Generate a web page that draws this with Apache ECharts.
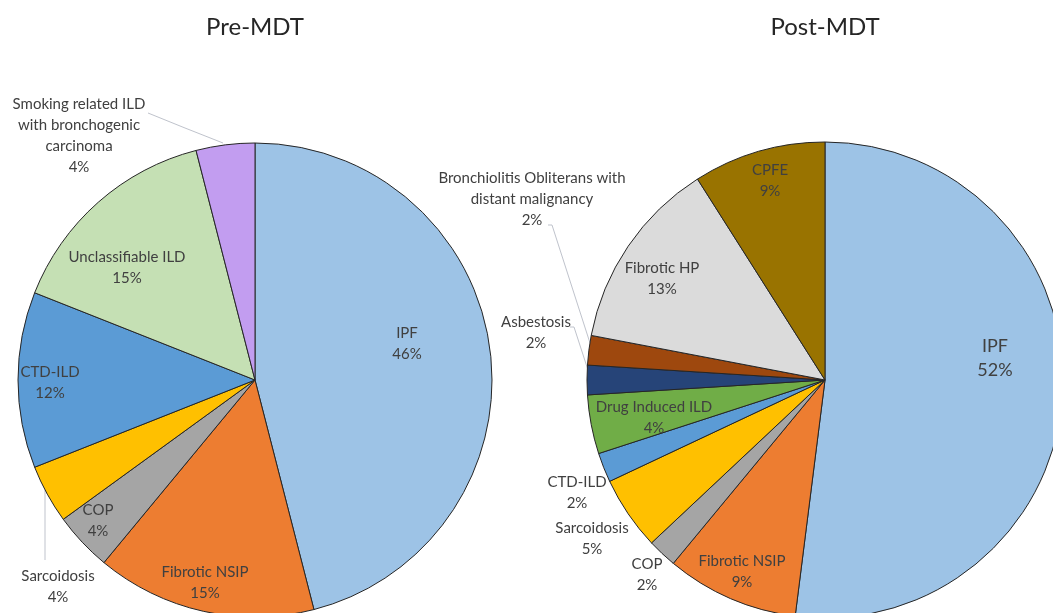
<!DOCTYPE html>
<html>
<head>
<meta charset="utf-8">
<script src="https://cdn.jsdelivr.net/npm/echarts@6/dist/echarts.min.js"></script>
<style>
html,body{margin:0;padding:0;background:#fff;}
#chart{width:1053px;height:613px;}
</style>
</head>
<body>
<div id="chart"></div>
<script>
// ---- data ----
var preTitle = 'Pre-MDT';
var postTitle = 'Post-MDT';
var preNames = ['IPF', 'Fibrotic NSIP', 'COP', 'Sarcoidosis', 'CTD-ILD', 'Unclassifiable ILD', 'Smoking related ILD\nwith bronchogenic\ncarcinoma'];
var preValues = [46, 15, 4, 4, 12, 15, 4];
var postNames = ['IPF', 'Fibrotic NSIP', 'COP', 'Sarcoidosis', 'CTD-ILD', 'Drug Induced ILD', 'Asbestosis', 'Bronchiolitis Obliterans with\ndistant malignancy', 'Fibrotic HP', 'CPFE'];
var postValues = [52, 9, 2, 5, 2, 4, 2, 2, 13, 9];

// ---- styles / layout ----
var preColors = ['#9DC3E6', '#ED7D31', '#A5A5A5', '#FFC000', '#5B9BD5', '#C5E0B4', '#C29DF0'];
var postColors = ['#9DC3E6', '#ED7D31', '#A5A5A5', '#FFC000', '#5B9BD5', '#70AD47', '#264478', '#9E480E', '#DBDBDB', '#997300'];
var preLabelPos = [[407, 344], [205, 583], [98, 521], [58, 587], [50, 383], [127, 268], [79, 136]];
var preLines = {3: [[45, 490], [45, 530], [45, 560]], 6: [[223, 143], [185, 128], [148, 113]]};
var postLabelPos = [[995, 358], [742, 572], [647, 575], [592, 539], [577, 493], [654, 418], [536, 333], [532, 199], [662, 279], [770, 181]];
var postLines = {6: [[588, 370], [574, 327], [570, 327]], 7: [[590, 343], [552, 225], [548, 225]]};
var preOutside = [3, 6];
var postOutside = [2, 3, 4, 6, 7];
var preLabelSize = {};
var postLabelSize = {0: 18};

var FONT = 'Lato';
var TXT = '#404040';

function buildData(names, values, colors, outside, lines, sizes) {
  return names.map(function (n, i) {
    var out = outside.indexOf(i) >= 0;
    var lbl = {position: out ? 'outside' : 'inside'};
    if (sizes[i]) { lbl.fontSize = sizes[i]; lbl.lineHeight = sizes[i] + 6; }
    return {
      name: n,
      value: values[i],
      itemStyle: {color: colors[i]},
      label: lbl,
      labelLine: {show: !!lines[i]}
    };
  });
}

function makeSeries(names, values, colors, outside, lines, pos, sizes, center, radius) {
  return {
    type: 'pie',
    center: center,
    radius: radius,
    startAngle: 90,
    clockwise: true,
    silent: true,
    avoidLabelOverlap: false,
    itemStyle: {borderColor: '#262626', borderWidth: 1},
    label: {
      show: true,
      fontFamily: FONT,
      fontSize: 15,
      lineHeight: 21,
      color: TXT,
      align: 'center',
      overflow: 'none',
      formatter: function (p) { return p.name + '\n' + p.value + '%'; }
    },
    labelLine: {show: false, lineStyle: {color: '#BFC3CC', width: 1}},
    labelLayout: function (p) {
      var r = {x: pos[p.dataIndex][0], y: pos[p.dataIndex][1], align: 'center', verticalAlign: 'middle'};
      if (lines[p.dataIndex]) r.labelLinePoints = lines[p.dataIndex];
      return r;
    },
    data: buildData(names, values, colors, outside, lines, sizes)
  };
}

var chart = echarts.init(document.getElementById('chart'));
chart.setOption({
  animation: false,
  backgroundColor: '#fff',
  graphic: [
    {type: 'text', x: 255, y: 27, style: {text: preTitle, textAlign: 'center', textVerticalAlign: 'middle', font: '24px Lato', fill: '#262626'}},
    {type: 'text', x: 825, y: 27, style: {text: postTitle, textAlign: 'center', textVerticalAlign: 'middle', font: '24px Lato', fill: '#262626'}}
  ],
  series: [
    makeSeries(preNames, preValues, preColors, preOutside, preLines, preLabelPos, preLabelSize, [255, 380], 237),
    makeSeries(postNames, postValues, postColors, postOutside, postLines, postLabelPos, postLabelSize, [825, 380], 238)
  ]
});
</script>
</body>
</html>
